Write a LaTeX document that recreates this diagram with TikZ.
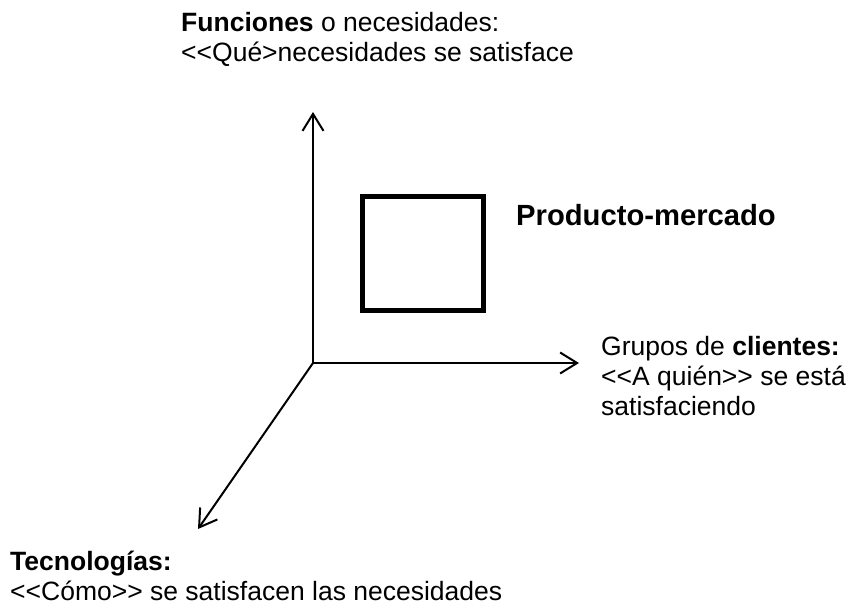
\documentclass[tikz,border=0pt]{standalone}
\usepackage{fontspec}
\setmainfont{Liberation Sans}
\usetikzlibrary{arrows.meta}
\begin{document}
\begin{tikzpicture}[x=1pt,y=1pt,
  axis/.style={line width=2pt, -{Straight Barb[length=17pt,width=21pt,line width=2pt]}},
  lbl/.style={font=\fontsize{26.5}{30}\selectfont, align=left, inner sep=0pt, anchor=base west},
  sq/.style={draw, line width=5pt, minimum width=121pt, minimum height=114pt, inner sep=0pt}]
\useasboundingbox (0,0) rectangle (848,606);
\coordinate (O) at (313,243);
\coordinate (up) at (313,494);
\coordinate (rt) at (579,243);
\coordinate (dg) at (198,77);
\draw[axis] (O) -- (up);
\draw[axis] (O) -- (rt);
\draw[axis] (O) -- (dg);
\node[sq] (box) at (423,352.5) {};
\node[lbl] (fun) at (181,544) {\textbf{Funciones} o necesidades:\\<{}<Qué>necesidades se satisface};
\node[lbl, font=\fontsize{29.2}{30}\selectfont\bfseries] (pm) at (516,381) {Producto-mercado};
\node[lbl] (cli) at (601,191) {Grupos de \textbf{clientes:}\\<{}<A quién>{}> se está\\satisfaciendo};
\node[lbl] (tec) at (10,6) {\textbf{Tecnologías:}\\<{}<Cómo>{}> se satisfacen las necesidades};
\end{tikzpicture}
\end{document}
